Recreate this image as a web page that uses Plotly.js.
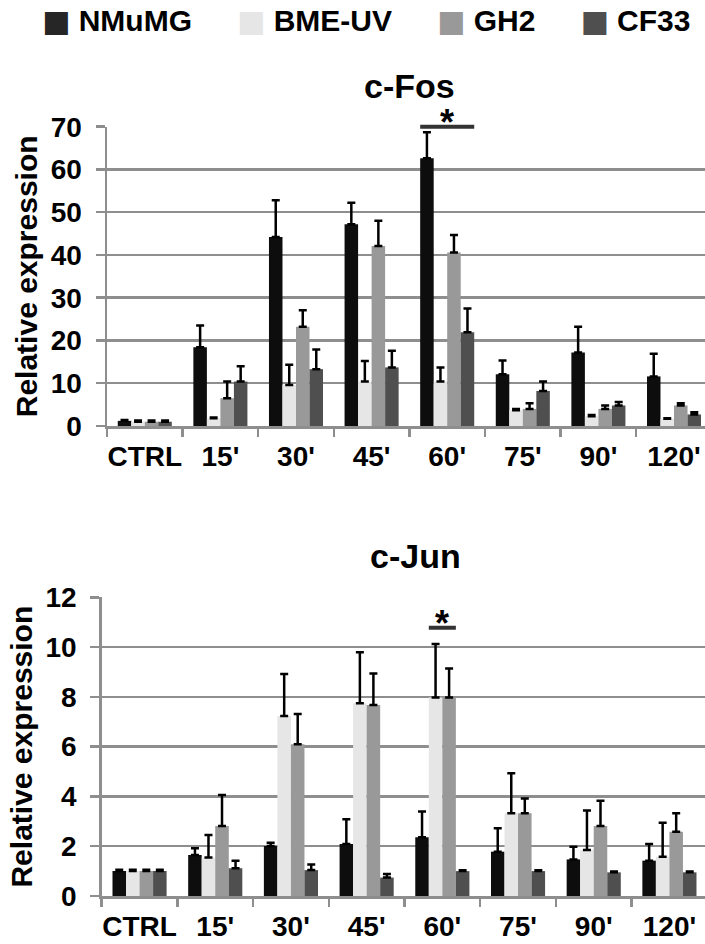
<!DOCTYPE html>
<html>
<head>
<meta charset="utf-8">
<script src="https://cdn.plot.ly/plotly-3.0.1.min.js"></script>
<style>
html,body{margin:0;padding:0;overflow:hidden;background:#fff;}
#chart{width:705px;height:944px;}
</style>
</head>
<body>
<div id="chart"></div>
<script>
// ---- data ----
var categories = ["CTRL", "15'", "30'", "45'", "60'", "75'", "90'", "120'"];
var seriesNames = ["NMuMG", "BME-UV", "GH2", "CF33"];

// c-Fos
var fosNMuMG    = [1.2, 18.4, 44.2, 47.2, 62.6, 12.1, 17.2, 11.6];
var fosNMuMGErr = [0.2, 5.1, 8.6, 5.0, 6.1, 3.2, 6.0, 5.3];
var fosBME      = [1.0, 1.8, 9.6, 10.4, 10.4, 3.7, 2.3, 1.7];
var fosBMEErr   = [0.3, 0.2, 4.7, 4.8, 3.3, 0.3, 0.3, 0.1];
var fosGH2      = [1.0, 6.5, 23.2, 42.1, 40.6, 4.0, 4.0, 4.8];
var fosGH2Err   = [0.3, 3.9, 3.9, 5.9, 4.1, 1.3, 0.8, 0.5];
var fosCF33     = [1.0, 10.4, 13.3, 13.7, 21.9, 8.2, 4.8, 2.7];
var fosCF33Err  = [0.3, 3.6, 4.6, 3.9, 5.6, 2.2, 0.8, 0.5];

// c-Jun
var junNMuMG    = [1.0, 1.65, 2.01, 2.09, 2.36, 1.78, 1.47, 1.42];
var junNMuMGErr = [0.05, 0.27, 0.13, 0.99, 1.03, 0.94, 0.51, 0.67];
var junBME      = [1.0, 1.55, 7.23, 7.74, 7.97, 3.32, 1.85, 1.58];
var junBMEErr   = [0.05, 0.90, 1.69, 2.05, 2.15, 1.61, 1.58, 1.36];
var junGH2      = [1.0, 2.81, 6.10, 7.67, 7.97, 3.32, 2.81, 2.58];
var junGH2Err   = [0.05, 1.25, 1.21, 1.27, 1.17, 0.60, 1.02, 0.74];
var junCF33     = [1.0, 1.11, 1.04, 0.74, 1.0, 1.0, 0.95, 0.95];
var junCF33Err  = [0.05, 0.31, 0.23, 0.14, 0.03, 0.03, 0.03, 0.03];

var fosTicks = [0, 10, 20, 30, 40, 50, 60, 70];
var junTicks = [0, 2, 4, 6, 8, 10, 12];

// ---- styling ----
var colors = ["#0d0d0d", "#e6e6e6", "#999999", "#4f4f4f"];
var legendColors = ["#262626", "#e6e6e6", "#999999", "#4f4f4f"];
var FONT = "Liberation Sans, Arial, sans-serif";
var grid = "#8e8e8e";

var fosVals = [fosNMuMG, fosBME, fosGH2, fosCF33];
var fosErrs = [fosNMuMGErr, fosBMEErr, fosGH2Err, fosCF33Err];
var junVals = [junNMuMG, junBME, junGH2, junCF33];
var junErrs = [junNMuMGErr, junBMEErr, junGH2Err, junCF33Err];

function barTrace(name, y, err, color, xa, ya) {
  return {
    type: "bar", name: name, x: categories, y: y,
    xaxis: xa, yaxis: ya, showlegend: false,
    marker: {color: color, line: {width: 0}},
    error_y: {type: "data", array: err, arrayminus: err.map(function(){return 0;}),
              symmetric: false, color: "#000", thickness: 2.5, width: 4}
  };
}

var data = [];
for (var i = 0; i < 4; i++) data.push(barTrace(seriesNames[i], fosVals[i], fosErrs[i], colors[i], "x", "y"));
for (var j = 0; j < 4; j++) data.push(barTrace(seriesNames[j], junVals[j], junErrs[j], colors[j], "x2", "y2"));
// legend entries: coloured square glyph + name
for (var k = 0; k < 4; k++) {
  data.push({type: "scatter", mode: "none", x: [null], y: [null], xaxis: "x", yaxis: "y",
             name: '<span style="color:' + legendColors[k] + ';font-family:DejaVu Sans">\u25A0</span>\u00a0' + seriesNames[k],
             showlegend: true, hoverinfo: "skip"});
}

var bargap = 0.285;
var H = 944, W = 705;

function xAxis(domainLeft, rangeEnd, anchor) {
  return {
    domain: [domainLeft / W, 1], anchor: anchor, type: "category",
    range: [-0.5, rangeEnd], fixedrange: true,
    showgrid: false, zeroline: false,
    showline: true, linecolor: grid, linewidth: 2.5,
    ticks: "outside", tickson: "boundaries", ticklen: 8, tickwidth: 2.5, tickcolor: grid,
    tickangle: 0, ticklabelstandoff: 4,
    tickfont: {family: FONT, size: 28, weight: "bold", color: "#000"}
  };
}
function yAxis(top, bottom, range, ticks, anchor, standoff) {
  return {
    domain: [1 - bottom / H, 1 - top / H], anchor: anchor,
    range: range, tickvals: ticks, ticktext: ticks.map(String), fixedrange: true,
    showgrid: true, gridcolor: grid, gridwidth: 2.5, zeroline: false,
    showline: true, linecolor: grid, linewidth: 2.5,
    ticks: "outside", ticklen: 9, tickwidth: 2.5, tickcolor: grid,
    ticklabelstandoff: 8,
    tickfont: {family: FONT, size: 28, weight: "bold", color: "#000"},
    title: {text: "Relative expression", standoff: standoff,
            font: {family: FONT, size: 30, weight: "bold", color: "#000"}}
  };
}

var layout = {
  width: W, height: H,
  margin: {l: 0, r: 0, t: 0, b: 0, autoexpand: false},
  paper_bgcolor: "#fff", plot_bgcolor: "#fff",
  barmode: "group", bargap: bargap, bargroupgap: 0,
  showlegend: true,
  legend: {orientation: "h", x: 2 / W, xanchor: "left", y: 1 + 7 / H, yanchor: "top",
           font: {family: FONT, size: 30, weight: "bold", color: "#000"},
           bgcolor: "rgba(0,0,0,0)", itemclick: false, itemdoubleclick: false},
  xaxis: xAxis(107, 7.41, "y"),
  yaxis: yAxis(126.7, 426, [0, 70], fosTicks, "x", 4),
  xaxis2: xAxis(101.7, 7.47, "y2"),
  yaxis2: yAxis(597.3, 896, [0, 12], junTicks, "x2", 4),
  shapes: [
    {type: "line", xref: "x", yref: "y domain", x0: 4 - (1 - bargap) / 2, x1: 4 + (1 - bargap) / 2,
     y0: 1, y1: 1, line: {color: "#333", width: 4}, layer: "above"},
    {type: "line", xref: "x2", yref: "y2", x0: 4 - (1 - bargap) / 4, x1: 4 + (1 - bargap) / 4,
     y0: 10.78, y1: 10.78, line: {color: "#333", width: 4}, layer: "above"}
  ],
  annotations: [
    {text: "c-Fos", xref: "paper", yref: "paper", x: 410 / W, y: 1 - 86 / H,
     xanchor: "center", yanchor: "middle", showarrow: false,
     font: {family: FONT, size: 34, weight: "bold", color: "#000"}},
    {text: "c-Jun", xref: "paper", yref: "paper", x: 415 / W, y: 1 - 556 / H,
     xanchor: "center", yanchor: "middle", showarrow: false,
     font: {family: FONT, size: 34, weight: "bold", color: "#000"}},
    {text: "*", xref: "x", yref: "y", x: 4, y: 70, xanchor: "center", yanchor: "bottom",
     yshift: -18, showarrow: false,
     font: {family: FONT, size: 36, weight: "bold", color: "#000"}},
    {text: "*", xref: "x2", yref: "y2", x: 4, y: 10.78, xanchor: "center", yanchor: "bottom",
     yshift: -18, showarrow: false,
     font: {family: FONT, size: 36, weight: "bold", color: "#000"}}
  ]
};

Plotly.newPlot("chart", data, layout, {staticPlot: true, displayModeBar: false});
</script>
</body>
</html>
